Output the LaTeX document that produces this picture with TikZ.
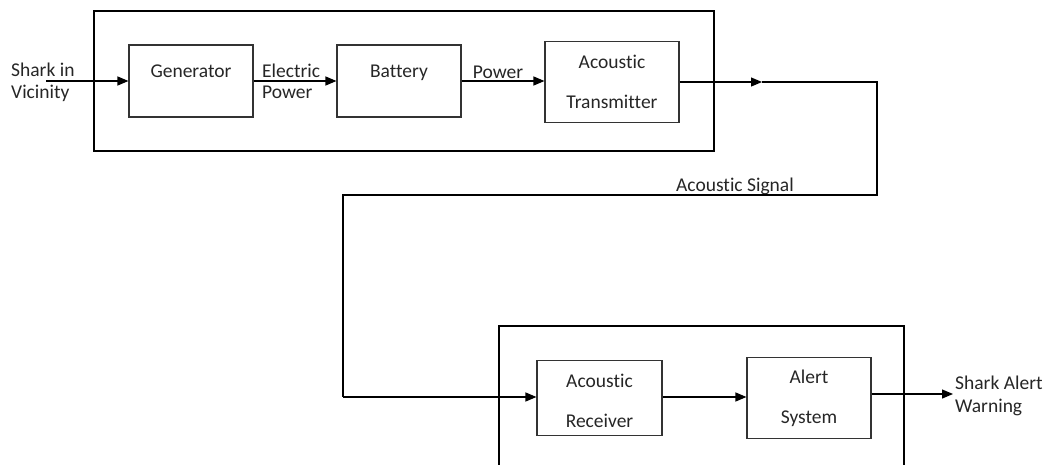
\documentclass[tikz,border=0pt]{standalone}
\usepackage{fontspec}
\setmainfont{Carlito}[Ligatures=CommonOff]
\usetikzlibrary{arrows.meta}
\tikzset{
  blockbox/.style={draw=black!80, line width=1.1pt, rectangle, inner sep=0pt, anchor=center},
  outerbox/.style={draw=black, line width=2.2pt},
  txt/.style={inner sep=0pt, anchor=base, font=\fontsize{19.5}{22}\selectfont, text=black!85},
  ltxt/.style={txt, anchor=base west},
  conn/.style={line width=1.2pt, draw=black},
  arr/.style={conn, -{Triangle[length=11pt,width=9pt]}},
}
\begin{document}
\begin{tikzpicture}[x=1pt,y=-1pt]
\useasboundingbox (0,0) rectangle (1050,464);
\clip (0,0) rectangle (1050,464);
% outer boxes
\draw[outerbox] (94,11) rectangle (714,151);
\draw[outerbox] (499,326) rectangle (904,480);
% blocks
\node[blockbox, minimum width=124pt, minimum height=72pt] (gen) at (191,81) {};
\node[blockbox, minimum width=124pt, minimum height=72pt] (bat) at (399,81) {};
\node[blockbox, minimum width=134pt, minimum height=81pt] (tx) at (612,82) {};
\node[blockbox, minimum width=125pt, minimum height=75pt] (rx) at (599.5,398) {};
\node[blockbox, minimum width=124pt, minimum height=81pt] (al) at (809,398) {};
% block texts
\node[txt] (genT) at (191,77) {Generator};
\node[txt] (batT) at (399,77) {Battery};
\node[txt] (txT1) at (612,68) {Acoustic};
\node[txt] (txT2) at (612,108) {Transmitter};
\node[txt] (rxT1) at (599.5,387) {Acoustic};
\node[txt] (rxT2) at (599.5,427) {Receiver};
\node[txt] (alT1) at (809,383) {Alert};
\node[txt] (alT2) at (809,423) {System};
% input / output labels
\node[ltxt] (inL1) at (11,76) {Shark in};
\node[ltxt] (inL2) at (11,98) {Vicinity};
\node[ltxt] (elL1) at (262,77) {Electric};
\node[ltxt] (elL2) at (262,98) {Power};
\node[txt] (pwL) at (498,78) {Power};
\node[txt] (sigL) at (735,191) {Acoustic Signal};
\node[ltxt] (outL1) at (955,389) {Shark Alert};
\node[ltxt] (outL2) at (955,412) {Warning};
% coordinates
\coordinate (inS) at (46,81);
\coordinate (mid) at (762,82);
\coordinate (c1) at (877,82);
\coordinate (c2) at (877,195);
\coordinate (c3) at (343,195);
\coordinate (c4) at (343,397);
\coordinate (outE) at (953,394);
% connectors
\draw[arr] (inS) -- (gen.west);
\draw[arr] (gen.east) -- (bat.west);
\draw[arr] (bat.east) -- (tx.west |- bat.east);
\draw[arr] (tx.east) -- (mid);
\draw[conn] (mid) -- (c1) -- (c2) -- (c3) -- (c4);
\draw[arr] (c4) -- (rx.west |- c4);
\draw[arr] (rx.east |- c4) -- (al.west |- c4);
\draw[arr] (al.east |- outE) -- (outE);
\end{tikzpicture}
\end{document}
